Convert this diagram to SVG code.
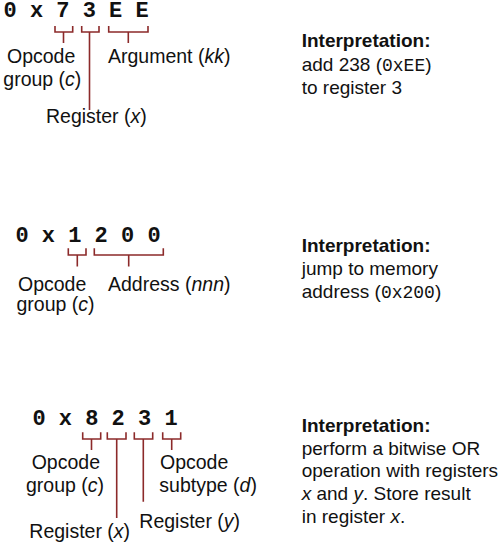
<svg xmlns="http://www.w3.org/2000/svg" width="503" height="544" viewBox="0 0 503 544">
<style>
.code{font-family:"Liberation Mono","Courier New",monospace;font-weight:bold;font-size:22px;fill:#111}
.lbl{font-family:"Liberation Sans",Arial,sans-serif;font-size:19px;fill:#111}
.lb2{font-family:"Liberation Sans",Arial,sans-serif;font-size:19.5px;fill:#111}
.hd{font-family:"Liberation Sans",Arial,sans-serif;font-size:19px;font-weight:bold;fill:#111}
.mono{font-family:"Liberation Mono","Courier New",monospace;font-size:18px}
.br{fill:none;stroke:#8c2a2a;stroke-width:1.6}
</style>
<rect width="503" height="544" fill="#fff"/>
<g id="connectors">
<path class="br" d="M55,26V32H72.7V26M63.5,32V43"/>
<path class="br" d="M81.7,26V32H99V26M89.5,32V110"/>
<path class="br" d="M108.7,26V32H148V26M128.3,32V43"/>
<path class="br" d="M68.3,248.3V255H86V248.3M77.3,255V266.5"/>
<path class="br" d="M94.3,248.3V255H163.3V248.3M128.7,255V266.5"/>
<path class="br" d="M82.7,432.3V439H100.7V432.3M91.5,439V450"/>
<path class="br" d="M107.3,432.3V439H126V432.3M116.7,439V518"/>
<path class="br" d="M134.3,432.3V439H152.7V432.3M143.3,439V501.7"/>
<path class="br" d="M162.7,432.3V439H180.7V432.3M171.7,439V450"/>
</g>
<g id="code1"><text class="code" x="3.5" y="17" xml:space="preserve">0 x 7 3 E E</text></g>
<g id="label1-c"><text class="lb2" x="7" y="62.5">Opcode</text><text class="lb2" x="3.3" y="85.5">group (<tspan font-style="italic">c</tspan>)</text></g>
<g id="label1-kk"><text class="lb2" x="108" y="62.5">Argument (<tspan font-style="italic">kk</tspan>)</text></g>
<g id="label1-x"><text class="lb2" x="46" y="123">Register (<tspan font-style="italic">x</tspan>)</text></g>
<g id="interp1"><text class="hd" x="301.7" y="47">Interpretation:</text><text class="lbl" x="301.7" y="70.5">add 238 (<tspan class="mono">0xEE</tspan>)</text><text class="lbl" x="301.7" y="94">to register 3</text></g>
<g id="code2"><text class="code" x="15.4" y="241.5" xml:space="preserve">0 x 1 2 0 0</text></g>
<g id="label2-c"><text class="lb2" x="18" y="290.5">Opcode</text><text class="lb2" x="16.5" y="311">group (<tspan font-style="italic">c</tspan>)</text></g>
<g id="label2-nnn"><text class="lb2" x="108" y="290.5">Address (<tspan font-style="italic">nnn</tspan>)</text></g>
<g id="interp2"><text class="hd" x="301.7" y="252.3">Interpretation:</text><text class="lbl" x="301.7" y="275">jump to memory</text><text class="lbl" x="301.7" y="297.7">address (<tspan class="mono">0x200</tspan>)</text></g>
<g id="code3"><text class="code" x="32.4" y="424.5" xml:space="preserve">0 x 8 2 3 1</text></g>
<g id="label3-c"><text class="lb2" x="31.7" y="469">Opcode</text><text class="lb2" x="26" y="491.5">group (<tspan font-style="italic">c</tspan>)</text></g>
<g id="label3-d"><text class="lb2" x="160" y="469">Opcode</text><text class="lb2" x="159.3" y="491.5">subtype (<tspan font-style="italic">d</tspan>)</text></g>
<g id="label3-y"><text class="lb2" x="139.3" y="528">Register (<tspan font-style="italic">y</tspan>)</text></g>
<g id="label3-x"><text class="lb2" x="29.3" y="538">Register (<tspan font-style="italic">x</tspan>)</text></g>
<g id="interp3"><text class="hd" x="301.7" y="431.7">Interpretation:</text><text class="lbl" x="301.7" y="455">perform a bitwise OR</text><text class="lbl" x="301.7" y="477.3">operation with registers</text><text class="lbl" x="301.7" y="500"><tspan font-style="italic">x</tspan> and <tspan font-style="italic">y</tspan>. Store result</text><text class="lbl" x="301.7" y="522.7">in register <tspan font-style="italic">x</tspan>.</text></g>
</svg>
